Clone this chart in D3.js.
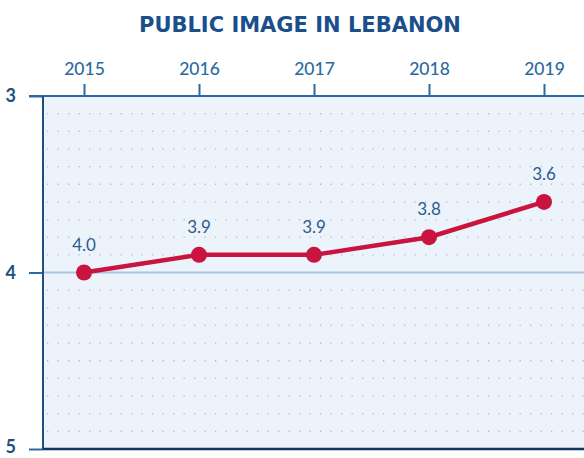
<!DOCTYPE html>
<html><head><meta charset="utf-8">
<script src="https://cdn.jsdelivr.net/npm/d3@7"></script>
<style>body{margin:0;background:#fff}svg{display:block}</style>
</head><body>
<svg id="c" width="584" height="458"></svg>
<script>
const years = ["2015","2016","2017","2018","2019"];
const values = [4.0, 3.9, 3.9, 3.8, 3.6];
const valueLabels = ["4.0","3.9","3.9","3.8","3.6"];
const yTicks = [3, 4, 5];
const title = "PUBLIC IMAGE IN LEBANON";

(function(){
const svg = d3.select("#c");
const pL = 43, pT = 96, pB = 449, pR = 584;
const x = d3.scalePoint().domain(years).range([84, 544]);
const y = d3.scaleLinear().domain([3, 5]).range([pT, pB]);

// background
svg.append("rect").attr("x", pL).attr("y", pT).attr("width", pR - pL).attr("height", pB - pT).attr("fill", "#edf3fb");

// dotted grid
const gridVals = d3.range(31, 50).map(d => d / 10).filter(d => Math.abs(d - 4) > 1e-6);
svg.append("g").selectAll("line").data(gridVals).join("line")
  .attr("x1", pL + 4).attr("x2", pR)
  .attr("y1", d => y(d)).attr("y2", d => y(d))
  .attr("stroke", "#aebdd0").attr("stroke-width", 1.3)
  .attr("stroke-dasharray", "1.3 9.2");

// solid line at 4
svg.append("line").attr("x1", pL).attr("x2", pR).attr("y1", y(4)).attr("y2", y(4))
  .attr("stroke", "#a8c6e4").attr("stroke-width", 2);

// top axis (years)
const xAxis = d3.axisTop(x).tickSize(12).tickPadding(9);
const gx = svg.append("g").attr("transform", `translate(0,${pT})`).call(xAxis);
gx.select(".domain").remove();
gx.selectAll(".tick line").attr("stroke", "#2a6aa0").attr("stroke-width", 2);
gx.selectAll(".tick text").attr("fill", "#2a6aa0").attr("font-family", "Lato, 'Open Sans', sans-serif").attr("font-size", 17.5).attr("font-weight", 500);
svg.append("line").attr("x1", 29).attr("x2", pR).attr("y1", pT).attr("y2", pT).attr("stroke", "#2a6aa0").attr("stroke-width", 2);

// left axis
const yAxis = d3.axisLeft(y).tickValues(yTicks).tickSize(14).tickPadding(13).tickFormat(d3.format("d"));
const gy = svg.append("g").attr("transform", `translate(${pL},0)`).call(yAxis);
gy.select(".domain").remove();
gy.selectAll(".tick line").attr("stroke", "#2a6aa0").attr("stroke-width", 2);
gy.selectAll(".tick text").attr("fill", "#1f4f80").attr("font-family", "Lato, 'Open Sans', sans-serif").attr("font-size", 18).attr("font-weight", 700)
  .attr("dy", (d, i) => d === 5 ? "0.22em" : "0.32em");
svg.append("line").attr("x1", pL).attr("x2", pL).attr("y1", pT).attr("y2", pB).attr("stroke", "#1f4f80").attr("stroke-width", 2);
svg.append("line").attr("x1", pL).attr("x2", pR).attr("y1", pB).attr("y2", pB).attr("stroke", "#15345e").attr("stroke-width", 2.5);

// line
const data = years.map((yr, i) => ({yr, v: values[i], lab: valueLabels[i]}));
svg.append("path").datum(data)
  .attr("d", d3.line().x(d => x(d.yr)).y(d => y(d.v)))
  .attr("fill", "none").attr("stroke", "#c8143f").attr("stroke-width", 4.5);
svg.append("g").selectAll("circle").data(data).join("circle")
  .attr("cx", d => x(d.yr)).attr("cy", d => y(d.v)).attr("r", 8).attr("fill", "#c8143f");
svg.append("g").selectAll("text").data(data).join("text")
  .attr("x", d => x(d.yr)).attr("y", d => y(d.v) - 22)
  .attr("text-anchor", "middle").attr("fill", "#2a5c8e")
  .attr("font-family", "Lato, 'Open Sans', sans-serif").attr("font-size", 17)
  .text(d => d.lab);

// title
svg.append("text").attr("x", 300).attr("y", 32).attr("text-anchor", "middle")
  .attr("fill", "#1a4f8c").attr("font-family", "'DejaVu Sans', Verdana, sans-serif")
  .attr("font-weight", "bold").attr("font-size", 21).text(title);
})();
</script>
</body></html>
